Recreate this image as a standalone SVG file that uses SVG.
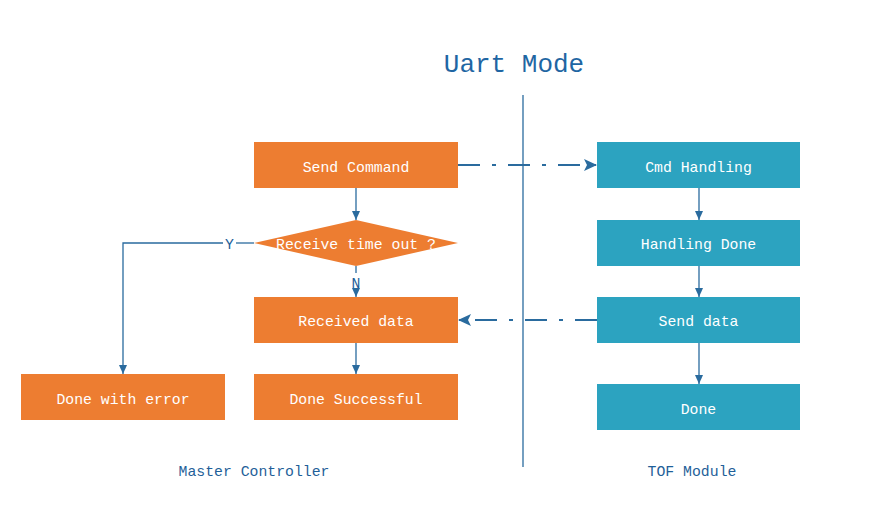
<svg xmlns="http://www.w3.org/2000/svg" width="889" height="513" viewBox="0 0 889 513">
<style>
.o{fill:#ED7D31}
.c{fill:#2CA3C0}
.t{font-family:"Liberation Mono","DejaVu Sans Mono",monospace;font-size:14.8px;fill:#fff;text-anchor:middle;dominant-baseline:central}
.lb{font-family:"Liberation Mono","DejaVu Sans Mono",monospace;font-size:14.8px;fill:#1F5F99;text-anchor:middle}
.ln{stroke:#2A6B9E;stroke-width:1.3;fill:none}
.dd{stroke:#2A6B9E;stroke-width:2.2;fill:none;stroke-dasharray:22 12 4 12}
</style>
<defs>
<marker id="a" markerWidth="10" markerHeight="10" refX="9" refY="5" orient="auto" markerUnits="userSpaceOnUse">
<path d="M0,1 L9,5 L0,9 Z" fill="#2A6B9E"/>
</marker>
<marker id="b" markerWidth="14" markerHeight="14" refX="13" refY="7" orient="auto" markerUnits="userSpaceOnUse">
<path d="M0,1 L13,7 L0,13 L3,7 Z" fill="#2A6B9E"/>
</marker>
</defs>
<rect width="889" height="513" fill="#fff"/>
<text x="514" y="72" font-family="Liberation Mono, DejaVu Sans Mono, monospace" font-size="26" fill="#1F66A3" text-anchor="middle">Uart Mode</text>
<line x1="523" y1="95" x2="523" y2="467" stroke="#2A6B9E" stroke-width="1.3"/>
<g id="connectors">
<line class="ln" x1="356" y1="188" x2="356" y2="220" marker-end="url(#a)"/>
<line class="ln" x1="356" y1="266" x2="356" y2="273"/>
<line class="ln" x1="356" y1="291" x2="356" y2="297" marker-end="url(#a)"/>
<text class="lb" x="356" y="288">N</text>
<polyline class="ln" points="254,243 236,243"/>
<polyline class="ln" points="223,243 123,243 123,374" marker-end="url(#a)"/>
<text class="lb" x="229.5" y="248.5">Y</text>
<line class="ln" x1="356" y1="343" x2="356" y2="374" marker-end="url(#a)"/>
<line class="dd" x1="458" y1="165" x2="597" y2="165" marker-end="url(#b)"/>
<line class="dd" x1="597" y1="320" x2="458" y2="320" marker-end="url(#b)"/>
<line class="ln" x1="699" y1="188" x2="699" y2="220" marker-end="url(#a)"/>
<line class="ln" x1="699" y1="266" x2="699" y2="297" marker-end="url(#a)"/>
<line class="ln" x1="699" y1="343" x2="699" y2="384" marker-end="url(#a)"/>
</g>
<g id="send-command"><rect class="o" x="254" y="142" width="204" height="46"/><text class="t" x="356" y="167.5">Send Command</text></g>
<g id="receive-timeout"><polygon class="o" points="356,220 458,243 356,266 254,243"/><text class="t" x="356" y="245">Receive time out ?</text></g>
<g id="received-data"><rect class="o" x="254" y="297" width="204" height="46"/><text class="t" x="356" y="322">Received data</text></g>
<g id="done-successful"><rect class="o" x="254" y="374" width="204" height="46"/><text class="t" x="356" y="399.5">Done Successful</text></g>
<g id="done-error"><rect class="o" x="21" y="374" width="204" height="46"/><text class="t" x="123" y="399.5">Done with error</text></g>
<g id="cmd-handling"><rect class="c" x="597" y="142" width="203" height="46"/><text class="t" x="698.5" y="167.5">Cmd Handling</text></g>
<g id="handling-done"><rect class="c" x="597" y="220" width="203" height="46"/><text class="t" x="698.5" y="245">Handling Done</text></g>
<g id="send-data"><rect class="c" x="597" y="297" width="203" height="46"/><text class="t" x="698.5" y="322">Send data</text></g>
<g id="done"><rect class="c" x="597" y="384" width="203" height="46"/><text class="t" x="698.5" y="409.5">Done</text></g>
<text class="lb" x="254" y="476">Master Controller</text>
<text class="lb" x="692" y="476">TOF Module</text>
</svg>
